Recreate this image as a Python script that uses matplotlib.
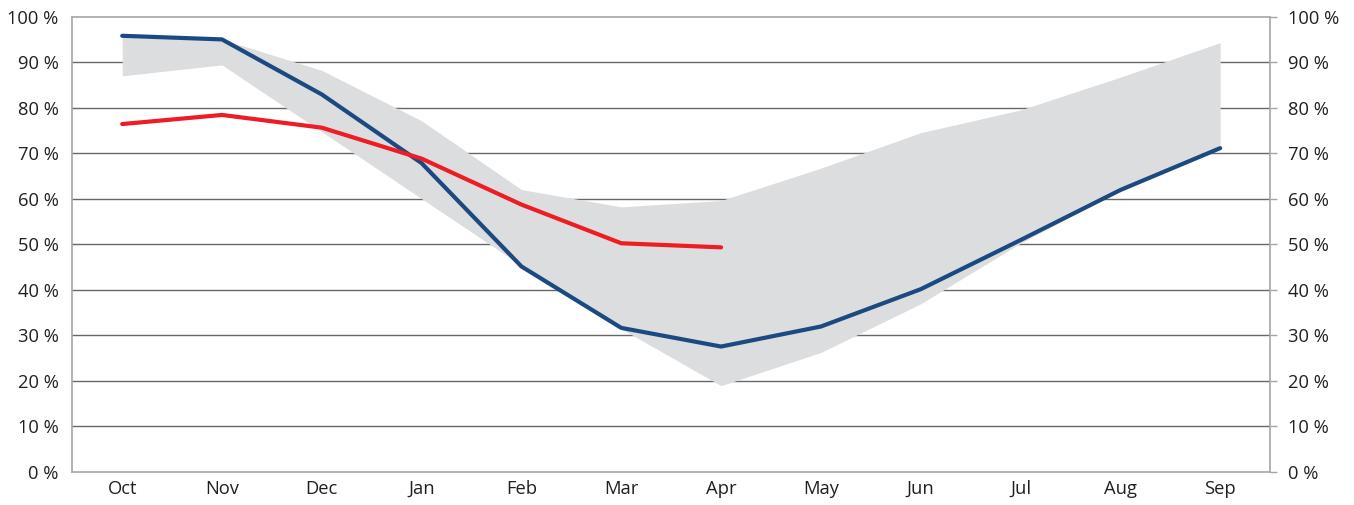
import matplotlib.pyplot as plt
import numpy as np

months = ['Oct', 'Nov', 'Dec', 'Jan', 'Feb', 'Mar', 'Apr', 'May', 'Jun', 'Jul', 'Aug', 'Sep']
band_upper = [95.8, 95.0, 88.2, 77.1, 62.0, 58.2, 59.6, 66.7, 74.5, 79.5, 86.7, 94.3]
band_lower = [87.0, 89.4, 74.7, 60.0, 45.3, 31.4, 18.9, 26.2, 36.9, 50.2, 61.9, 71.1]
blue_values = [95.8, 95.0, 82.9, 67.8, 45.1, 31.6, 27.5, 31.9, 40.1, 50.9, 61.9, 71.1]
red_values = [76.4, 78.4, 75.6, 68.8, 58.7, 50.2, 49.3]
y_ticks = [0, 10, 20, 30, 40, 50, 60, 70, 80, 90, 100]

plt.rcParams['font.family'] = ['Open Sans', 'DejaVu Sans']
text_color = '#231f20'
font_size = 13.2

fig = plt.figure(figsize=(13.54, 5.05), dpi=100)
ax = fig.add_axes([0.0534, 0.066, 0.8846, 0.901])

x = np.arange(len(months))
# grey range band, then the two series on top
ax.fill_between(x, band_lower, band_upper, color='#dcdddf', linewidth=0, zorder=2)
ax.plot(x, blue_values, color='#1c4a80', linewidth=3, solid_capstyle='round', zorder=4)
ax.plot(x[:len(red_values)], red_values, color='#ee1c25', linewidth=3,
        solid_capstyle='round', zorder=5)

ax.set_xlim(-0.5, len(months) - 0.5)
ax.set_ylim(0, 100)
ax.set_xticks(x)
ax.set_xticklabels(months)
ax.set_yticks(y_ticks)
ax.set_yticklabels([f'{v} %' for v in y_ticks])

for v in y_ticks[1:-1]:
    ax.axhline(v, color='#676767', linewidth=1, zorder=1)

for side in ['left', 'right', 'bottom', 'top']:
    ax.spines[side].set_color('#a6a6a6')
    ax.spines[side].set_linewidth(1.2)

ax.tick_params(axis='x', length=0, pad=6, labelsize=font_size, labelcolor=text_color)
ax.tick_params(axis='y', length=0, pad=10, labelsize=font_size, labelcolor=text_color)

# right-hand copy of the percent axis
ax2 = ax.twinx()
ax2.set_ylim(0, 100)
ax2.set_yticks(y_ticks)
ax2.set_yticklabels([f'{v} %' for v in y_ticks])
ax2.tick_params(axis='y', length=5, width=1, color='#a6a6a6', pad=8,
                labelsize=font_size, labelcolor=text_color)
for side in ['left', 'right', 'bottom', 'top']:
    ax2.spines[side].set_visible(False)

fig.savefig('out.png', dpi=100)
